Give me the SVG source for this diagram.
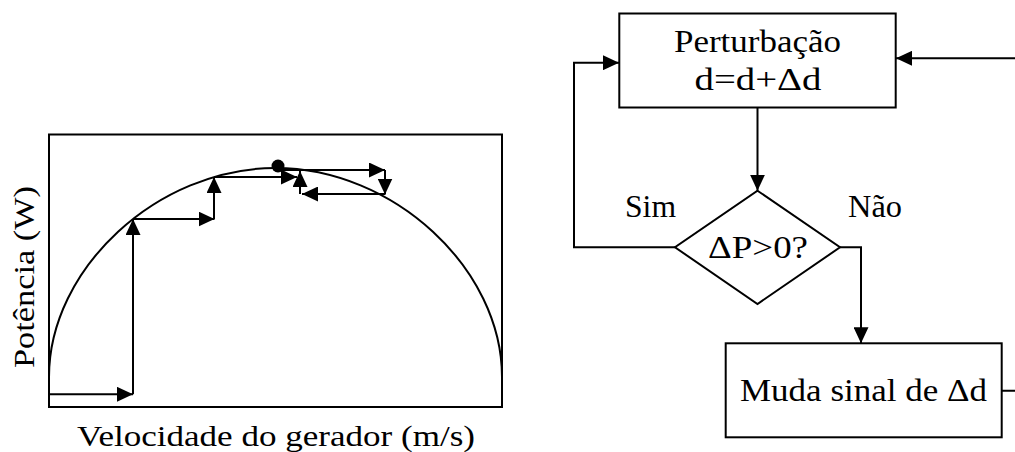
<svg xmlns="http://www.w3.org/2000/svg" width="1015" height="452" viewBox="0 0 1015 452">
<style>
.ln{fill:none;stroke:#000;stroke-width:2}
.arr{fill:none;stroke:#000;stroke-width:2;marker-end:url(#ah)}
.box{fill:#fff;stroke:#000;stroke-width:2}
.t{font-family:'Liberation Serif','DejaVu Serif',serif;font-size:31px;fill:#000;text-anchor:middle}
.ax{font-family:'Liberation Serif','DejaVu Serif',serif;font-size:30px;fill:#000;text-anchor:middle}
</style>
<defs>
<marker id="ah" markerWidth="16" markerHeight="15" refX="16" refY="7.5" orient="auto" markerUnits="userSpaceOnUse">
<path d="M0,0 L16,7.5 L0,15 z" fill="#000"/>
</marker>
</defs>
<rect width="1015" height="452" fill="#fff"/>

<g id="plot">
<rect x="49" y="134.5" width="453" height="272.5" class="ln"/>
<path d="M49,407 V377 C49,268.3 157.7,168 275.5,168 C393.3,168 502,268.3 502,377 V407" class="ln"/>
<path d="M49,394.3 H133" class="arr"/>
<path d="M133,394.3 V219" class="arr"/>
<path d="M133,219 H214.5" class="arr"/>
<path d="M214,219 V177" class="arr"/>
<path d="M214,177 H297" class="arr"/>
<path d="M278,170 H385" class="arr"/>
<path d="M385,170 V194.5" class="arr"/>
<path d="M385,194 H302" class="arr"/>
<path d="M300,194 V171" class="arr"/>
<circle cx="278" cy="166" r="6.5" fill="#000"/>
<text class="ax" x="276" y="446" textLength="398" lengthAdjust="spacingAndGlyphs">Velocidade do gerador (m/s)</text>
<text class="ax" transform="translate(33.5,277) rotate(-90)" x="0" y="0" textLength="182" lengthAdjust="spacingAndGlyphs">Potência (W)</text>
</g>

<g id="connectors">
<path d="M757.5,107.5 V190.7" class="arr"/>
<path d="M675,247.3 H574 V62.7 H619" class="arr"/>
<path d="M840,247.3 H861 V343.3" class="arr"/>
<path d="M1001.7,390.7 H1030 V58.3 H896" class="arr"/>
<text class="t" x="650.5" y="217" textLength="51" lengthAdjust="spacingAndGlyphs">Sim</text>
<text class="t" x="875" y="217" textLength="54" lengthAdjust="spacingAndGlyphs">Não</text>
</g>

<g id="node-perturbacao">
<rect x="619.3" y="13.5" width="276.4" height="94" class="box"/>
<text class="t" x="757.5" y="52" textLength="167" lengthAdjust="spacingAndGlyphs">Perturbação</text>
<text class="t" x="758" y="90" textLength="127" lengthAdjust="spacingAndGlyphs">d=d+Δd</text>
</g>

<g id="node-decisao">
<path d="M757.5,190.7 L840,247.3 L757.5,304 L675,247.3 Z" class="box"/>
<text class="t" x="758" y="258.3" textLength="100" lengthAdjust="spacingAndGlyphs">ΔP&gt;0?</text>
</g>

<g id="node-muda">
<rect x="725.7" y="343.3" width="276" height="94" class="box"/>
<text class="t" x="863.5" y="401" textLength="247" lengthAdjust="spacingAndGlyphs">Muda sinal de Δd</text>
</g>
</svg>
